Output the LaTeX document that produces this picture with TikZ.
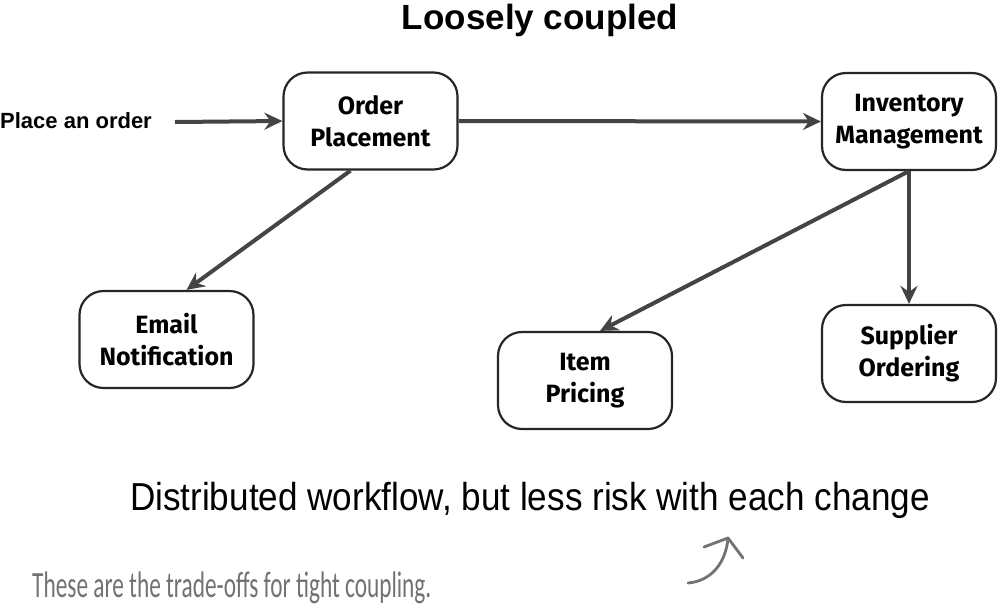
\documentclass[tikz,border=0pt]{standalone}
\usepackage{fontspec}
\setmainfont{Liberation Sans}
\newfontfamily\boxfont{Fira Sans}
\newfontfamily\handfont{Carlito}
\usetikzlibrary{arrows.meta}
\definecolor{linegray}{HTML}{444444}
\definecolor{notegray}{HTML}{727272}
\tikzset{
  procbox/.style={draw=black!85, line width=2.2pt, rounded corners=24pt, fill=white,
    minimum width=174pt, minimum height=97pt, align=center,
    font=\boxfont\bfseries\fontsize{25}{32}\selectfont},
  flow/.style={draw=linegray, line width=4pt, -{Stealth[length=18pt,width=17pt,inset=6pt]}},
}
\begin{document}
\begin{tikzpicture}[x=1pt,y=-1pt]
\useasboundingbox (0,0) rectangle (1000,606);
\node (title) at (540,20) {\bfseries\fontsize{35}{40}\selectfont Loosely coupled};
\node[anchor=west, inner sep=0pt] (place) at (0,121) {\bfseries\fontsize{22}{26}\selectfont Place an order};
\node[procbox] (order) at (370.5,121) {Order\\Placement};
\node[procbox] (inv) at (909,121.5) {Inventory\\Management};
\node[procbox] (email) at (166.5,339.5) {Email\\Notification};
\node[procbox] (item) at (585,380.5) {Item\\Pricing};
\node[procbox] (supp) at (909,353.5) {Supplier\\Ordering};
\coordinate (start) at (175,122);
\draw[flow] (start) -- (order.west);
\draw[flow] (order.east) -- (inv.west);
\draw[flow] ([xshift=-20pt]order.south) -- ([xshift=20pt]email.north);
\draw[flow] (inv.south) -- ([xshift=15pt]item.north);
\draw[flow] (inv.south) -- (supp.north);
\node (main) at (530,500) {\scalebox{0.9}[1]{\fontsize{39}{44}\selectfont Distributed workflow, but less risk with each change}};
\node[anchor=base west, text=notegray, inner sep=0pt] (note) at (32,597) {\scalebox{0.63}[1]{\handfont\fontsize{37}{40}\selectfont These are the trade-offs for tight coupling.}};
\coordinate (nstart) at (688,583);
\coordinate (ntip) at (728,538);
\draw[notegray, line width=2.8pt, line cap=round] (nstart) .. controls (712,581) and (726,562) .. (ntip);
\draw[notegray, line width=2.8pt, line cap=round, line join=round] (704,547) -- (ntip) -- (743,558);
\end{tikzpicture}
\end{document}
